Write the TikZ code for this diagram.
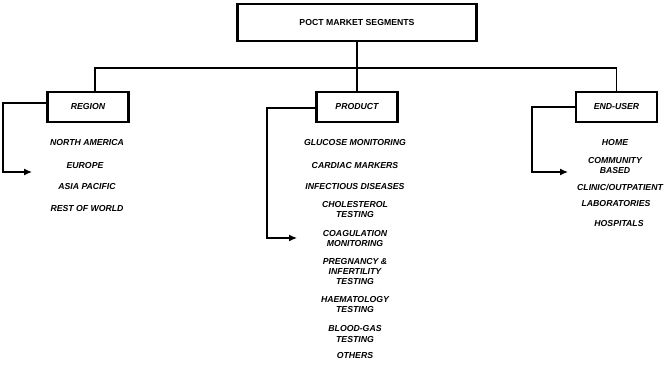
\documentclass[tikz,border=0pt]{standalone}
\usepackage{fontspec}
\setmainfont{Liberation Sans}
\usetikzlibrary{arrows.meta}
\tikzset{
  mainbox/.style={draw, line width=2.2pt, minimum width=239pt, minimum height=37pt, font=\bfseries\fontsize{8.7}{9}\selectfont, inner sep=0pt},
  catbox/.style={draw, line width=2.2pt, minimum width=81pt, minimum height=30pt, font=\bfseries\itshape\fontsize{8.7}{9}\selectfont, inner sep=0pt},
  item/.style={font=\bfseries\itshape\fontsize{8.7}{10}\selectfont, align=center, inner sep=0pt},
  conn/.style={line width=1.2pt},
  arr/.style={line width=1.2pt, -{Latex[length=8pt,width=7pt]}}
}
\begin{document}
\begin{tikzpicture}[x=1pt,y=-1pt]
\useasboundingbox (0,0) rectangle (669,364);
\node[mainbox] (top) at (357,22.5) {POCT MARKET SEGMENTS};
\node[catbox] (region) at (88,107) {REGION};
\node[catbox] (product) at (357,107) {PRODUCT};
\node[catbox] (enduser) at (616.5,107) {END-USER};
\coordinate (hub) at (357,68);
\draw[conn] (top.south) -- (hub);
\draw[conn] ([xshift=7pt]region.north) |- (hub) -| (enduser.north);
\draw[conn] (hub) -- (product.north);
% region items
\node[item] (r1) at (87,143) {NORTH AMERICA};
\node[item] (r2) at (85,166) {EUROPE};
\node[item] (r3) at (87,187) {ASIA PACIFIC};
\node[item] (r4) at (87,209) {REST OF WORLD};
% product items
\node[item] (p1) at (355,143) {GLUCOSE MONITORING};
\node[item] (p2) at (355,166) {CARDIAC MARKERS};
\node[item] (p3) at (355,187) {INFECTIOUS DISEASES};
\node[item] (p4) at (355,210) {CHOLESTEROL\\TESTING};
\node[item] (p5) at (355,239) {COAGULATION\\MONITORING};
\node[item] (p6) at (355,272) {PREGNANCY \&\\INFERTILITY\\TESTING};
\node[item] (p7) at (355,305) {HAEMATOLOGY\\TESTING};
\node[item] (p8) at (355,334) {BLOOD-GAS\\TESTING};
\node[item] (p9) at (355,356) {OTHERS};
% end-user items
\node[item] (e1) at (615,143) {HOME};
\node[item] (e2) at (615,166) {COMMUNITY\\BASED};
\node[item] (e3) at (620,187) {CLINIC/OUTPATIENT};
\node[item] (e4) at (616,204) {LABORATORIES};
\node[item] (e5) at (619,224) {HOSPITALS};
% elbow arrows
\coordinate (ra) at (32,172);
\coordinate (pa) at (297,238);
\coordinate (ea) at (568,172);
\draw[arr] ([yshift=4pt]region.west) -- (3,103) |- (ra);
\draw[arr] ([yshift=-1pt]product.west) -- (267,108) |- (pa);
\draw[arr] (enduser.west) -- (532,107) |- (ea);
\end{tikzpicture}
\end{document}
